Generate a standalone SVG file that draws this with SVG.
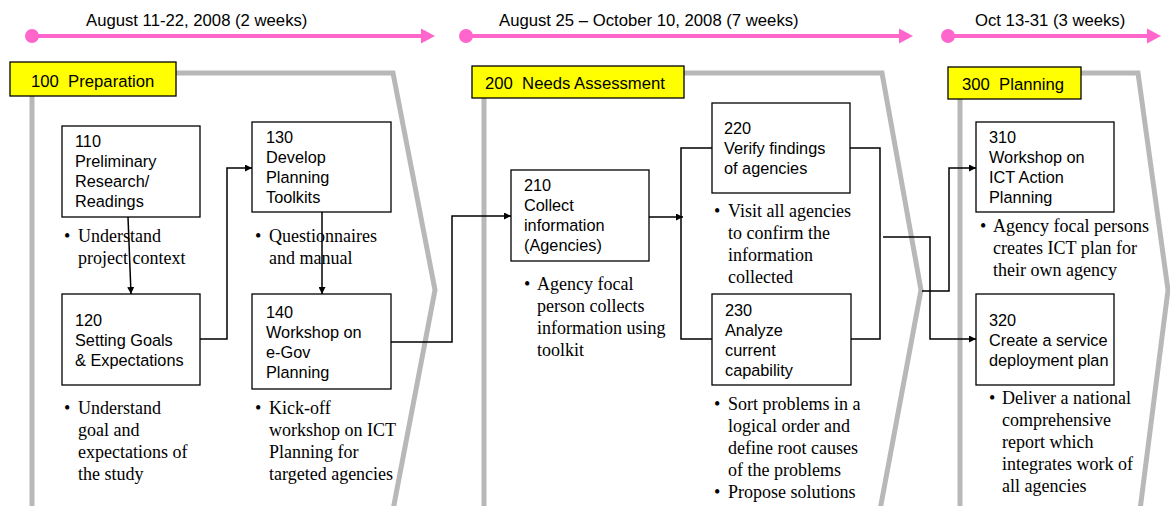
<svg xmlns="http://www.w3.org/2000/svg" width="1170" height="506" viewBox="0 0 1170 506">
  <style>
    .tl { stroke: #ff66cc; stroke-width: 4; fill: none; }
    .tldot { fill: #ff66cc; }
    .tlhead { fill: #ff66cc; }
    .tltext { font-family: "Liberation Sans", Arial, sans-serif; font-size: 16.7px; fill: #000; }
    .panel { fill: none; stroke: #b8b8b8; stroke-width: 5; stroke-linejoin: miter; }
    .label { fill: #ffff00; stroke: #000; stroke-width: 1.3; }
    .labeltext { font-family: "Liberation Sans", Arial, sans-serif; font-size: 16.7px; fill: #000; white-space: pre; }
    .box { fill: #fff; stroke: #000; stroke-width: 1.3; }
    .boxtext { font-family: "Liberation Sans", Arial, sans-serif; font-size: 16.3px; fill: #000; }
    .note { font-family: "Liberation Serif", "Times New Roman", serif; font-size: 18px; fill: #000; }
    .conn { fill: none; stroke: #000; stroke-width: 1.5; }
  </style>
  <defs>
    <marker id="arrow" viewBox="0 0 10 10" refX="10" refY="5" markerWidth="7" markerHeight="7" markerUnits="userSpaceOnUse" orient="auto">
      <path d="M0,0 L10,5 L0,10 z" fill="#000"/>
    </marker>
  </defs>
  <rect width="1170" height="506" fill="#fff"/>

  <!-- timeline -->
  <g id="timeline">
    <text class="tltext" x="86" y="26">August 11-22, 2008 (2 weeks)</text>
    <line class="tl" x1="32" y1="36" x2="424" y2="36"/>
    <circle class="tldot" cx="32" cy="36" r="7"/>
    <path class="tlhead" d="M421,28.5 L435,36 L421,43.5 z"/>

    <text class="tltext" x="499" y="26">August 25 – October 10, 2008 (7 weeks)</text>
    <line class="tl" x1="466" y1="36" x2="902" y2="36"/>
    <circle class="tldot" cx="466" cy="36" r="7"/>
    <path class="tlhead" d="M899,28.5 L913,36 L899,43.5 z"/>

    <text class="tltext" x="975" y="26">Oct 13-31 (3 weeks)</text>
    <line class="tl" x1="948" y1="36" x2="1150" y2="36"/>
    <circle class="tldot" cx="948" cy="36" r="7"/>
    <path class="tlhead" d="M1147,28.5 L1161,36 L1147,43.5 z"/>
  </g>

  <!-- phase outlines -->
  <g id="phase-100">
    <path class="panel" d="M32,96 L32,510 M176,73 L393,73 L435,290 L393,510"/>
    <rect class="label" x="10" y="62" width="166" height="34"/>
    <text class="labeltext" x="31" y="87">100  Preparation</text>
  </g>
  <g id="phase-200">
    <path class="panel" d="M484,98 L484,510 M684,73 L882,73 L921,290 L880,510"/>
    <rect class="label" x="472" y="66" width="212" height="32"/>
    <text class="labeltext" x="485" y="89">200  Needs Assessment</text>
  </g>
  <g id="phase-300">
    <path class="panel" d="M960,99 L960,510 M1081,73 L1138,73 L1168,290 L1140,510"/>
    <rect class="label" x="948" y="67" width="133" height="32"/>
    <text class="labeltext" x="962" y="90">300  Planning</text>
  </g>

  <!-- connectors -->
  <g id="connectors">
    <path class="conn" d="M128,217 L131,294" marker-end="url(#arrow)"/>
    <path class="conn" d="M322,212 L322,294" marker-end="url(#arrow)"/>
    <path class="conn" d="M200,339 L227,339 L227,168 L252,168" marker-end="url(#arrow)"/>
    <path class="conn" d="M391,342 L452,342 L452,216 L511,216" marker-end="url(#arrow)"/>
    <path class="conn" d="M644,217 L683,217" marker-end="url(#arrow)"/>
    <path class="conn" d="M712,148 L681,148 L681,339 L712,339"/>
    <path class="conn" d="M850,148 L880,148 L880,339 L851,339"/>
    <path class="conn" d="M883,237 L930,237 L930,339 L976,339" marker-end="url(#arrow)"/>
    <path class="conn" d="M922,291 L949,291 L949,168 L976,168" marker-end="url(#arrow)"/>
  </g>

  <!-- phase 100 steps -->
  <g id="node-110">
    <rect class="box" x="62" y="126" width="138" height="91"/>
    <text class="boxtext" x="75" y="147">110</text>
    <text class="boxtext" x="75" y="167">Preliminary</text>
    <text class="boxtext" x="75" y="187">Research/</text>
    <text class="boxtext" x="75" y="207">Readings</text>
    <text class="note" x="64" y="242">•</text>
    <text class="note" x="78" y="242">Understand</text>
    <text class="note" x="78" y="264">project context</text>
  </g>
  <g id="node-120">
    <rect class="box" x="62" y="294" width="138" height="91"/>
    <text class="boxtext" x="75" y="326">120</text>
    <text class="boxtext" x="75" y="346">Setting Goals</text>
    <text class="boxtext" x="75" y="366">&amp; Expectations</text>
    <text class="note" x="64" y="414">•</text>
    <text class="note" x="78" y="414">Understand</text>
    <text class="note" x="78" y="436">goal and</text>
    <text class="note" x="78" y="458">expectations of</text>
    <text class="note" x="78" y="480">the study</text>
  </g>
  <g id="node-130">
    <rect class="box" x="252" y="122" width="139" height="90"/>
    <text class="boxtext" x="266" y="143">130</text>
    <text class="boxtext" x="266" y="163">Develop</text>
    <text class="boxtext" x="266" y="183">Planning</text>
    <text class="boxtext" x="266" y="203">Toolkits</text>
    <text class="note" x="255" y="242">•</text>
    <text class="note" x="269" y="242">Questionnaires</text>
    <text class="note" x="269" y="264">and manual</text>
  </g>
  <g id="node-140">
    <rect class="box" x="252" y="294" width="139" height="95"/>
    <text class="boxtext" x="266" y="318">140</text>
    <text class="boxtext" x="266" y="338">Workshop on</text>
    <text class="boxtext" x="266" y="358">e-Gov</text>
    <text class="boxtext" x="266" y="378">Planning</text>
    <text class="note" x="255" y="414">•</text>
    <text class="note" x="269" y="414">Kick-off</text>
    <text class="note" x="269" y="436">workshop on ICT</text>
    <text class="note" x="269" y="458">Planning for</text>
    <text class="note" x="269" y="480">targeted agencies</text>
  </g>

  <!-- phase 200 steps -->
  <g id="node-210">
    <rect class="box" x="511" y="170" width="138" height="91"/>
    <text class="boxtext" x="524" y="191">210</text>
    <text class="boxtext" x="524" y="211">Collect</text>
    <text class="boxtext" x="524" y="231">information</text>
    <text class="boxtext" x="524" y="251">(Agencies)</text>
    <text class="note" x="524" y="290">•</text>
    <text class="note" x="537" y="290">Agency focal</text>
    <text class="note" x="537" y="312">person collects</text>
    <text class="note" x="537" y="334">information using</text>
    <text class="note" x="537" y="356">toolkit</text>
  </g>
  <g id="node-220">
    <rect class="box" x="712" y="103" width="138" height="90"/>
    <text class="boxtext" x="724" y="134">220</text>
    <text class="boxtext" x="724" y="154">Verify findings</text>
    <text class="boxtext" x="724" y="174">of agencies</text>
    <text class="note" x="714" y="217">•</text>
    <text class="note" x="728" y="217">Visit all agencies</text>
    <text class="note" x="728" y="239">to confirm the</text>
    <text class="note" x="728" y="261">information</text>
    <text class="note" x="728" y="283">collected</text>
  </g>
  <g id="node-230">
    <rect class="box" x="712" y="294" width="139" height="91"/>
    <text class="boxtext" x="725" y="316">230</text>
    <text class="boxtext" x="725" y="336">Analyze</text>
    <text class="boxtext" x="725" y="356">current</text>
    <text class="boxtext" x="725" y="376">capability</text>
    <text class="note" x="714" y="410">•</text>
    <text class="note" x="728" y="410">Sort problems in a</text>
    <text class="note" x="728" y="432">logical order and</text>
    <text class="note" x="728" y="454">define root causes</text>
    <text class="note" x="728" y="476">of the problems</text>
    <text class="note" x="714" y="498">•</text>
    <text class="note" x="728" y="498">Propose solutions</text>
  </g>

  <!-- phase 300 steps -->
  <g id="node-310">
    <rect class="box" x="976" y="122" width="138" height="90"/>
    <text class="boxtext" x="989" y="143">310</text>
    <text class="boxtext" x="989" y="163">Workshop on</text>
    <text class="boxtext" x="989" y="183">ICT Action</text>
    <text class="boxtext" x="989" y="203">Planning</text>
    <text class="note" x="980" y="232">•</text>
    <text class="note" x="993" y="232">Agency focal persons</text>
    <text class="note" x="993" y="254">creates ICT plan for</text>
    <text class="note" x="993" y="276">their own agency</text>
  </g>
  <g id="node-320">
    <rect class="box" x="976" y="294" width="138" height="91"/>
    <text class="boxtext" x="989" y="326">320</text>
    <text class="boxtext" x="989" y="346">Create a service</text>
    <text class="boxtext" x="989" y="366">deployment plan</text>
    <text class="note" x="989" y="404">•</text>
    <text class="note" x="1002" y="404">Deliver a national</text>
    <text class="note" x="1002" y="426">comprehensive</text>
    <text class="note" x="1002" y="448">report which</text>
    <text class="note" x="1002" y="470">integrates work of</text>
    <text class="note" x="1002" y="492">all agencies</text>
  </g>
</svg>
